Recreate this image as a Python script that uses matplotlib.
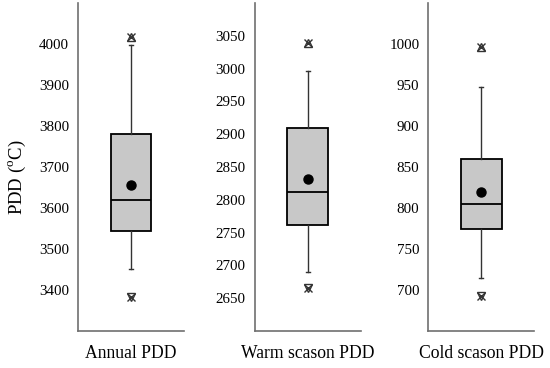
import matplotlib
matplotlib.use("Agg")
import matplotlib.pyplot as plt

plt.rcParams['font.family'] = ['Liberation Serif', 'DejaVu Serif']
plt.rcParams['mathtext.fontset'] = 'custom'
plt.rcParams['mathtext.rm'] = 'Liberation Serif'

labels = ["Annual PDD", "Warm scason PDD", "Cold scason PDD"]
q1 = [3543, 2762, 775]
median = [3620, 2812, 805]
q3 = [3780, 2910, 860]
whislo = [3452, 2690, 715]
whishi = [3998, 2997, 947]
mean = [3656, 2832, 819]
out_hi = [4016, 3039, 996]
out_lo = [3384, 2665, 693]
ylims = [(3300, 4100), (2600, 3100), (650, 1050)]
yticks = [[3400, 3500, 3600, 3700, 3800, 3900, 4000],
          [2650, 2700, 2750, 2800, 2850, 2900, 2950, 3000, 3050],
          [700, 750, 800, 850, 900, 950, 1000]]

W, H = 550, 368
fig = plt.figure(figsize=(W/100, H/100), dpi=100)
lefts = [78, 254.7, 428.3]
for i in range(3):
    ax = fig.add_axes([lefts[i]/W, (H-331)/H, 106/W, 328/H])
    st = dict(med=median[i], q1=q1[i], q3=q3[i], whislo=whislo[i], whishi=whishi[i],
              mean=mean[i], fliers=[], label='')
    ax.bxp([st], positions=[1], widths=0.77, patch_artist=True, showmeans=True,
           showfliers=False,
           boxprops=dict(facecolor='#c8c8c8', edgecolor='black', linewidth=1.3),
           medianprops=dict(color='black', linewidth=1.3),
           whiskerprops=dict(color='#333333', linewidth=1.0),
           capprops=dict(color='#333333', linewidth=1.0),
           capwidths=0.07,
           meanprops=dict(marker='o', markerfacecolor='black', markeredgecolor='black', markersize=6.5))
    ax.plot([1], [out_hi[i]], marker='x', color='#333333', markersize=6, mew=1.0, linestyle='none')
    ax.plot([1], [out_hi[i]], marker='^', mfc='none', mec='#333333', markersize=6, mew=1.0, linestyle='none')
    ax.plot([1], [out_lo[i]], marker='x', color='#333333', markersize=6, mew=1.0, linestyle='none')
    ax.plot([1], [out_lo[i]], marker='v', mfc='none', mec='#333333', markersize=6, mew=1.0, linestyle='none')
    ax.set_xlim(0, 2)
    ax.set_ylim(*ylims[i])
    ax.set_yticks(yticks[i])
    ax.set_xticks([])
    ax.tick_params(axis='y', length=0, pad=6.5, labelsize=10.8)
    for s in ['top', 'right']:
        ax.spines[s].set_visible(False)
    for s in ['left', 'bottom']:
        ax.spines[s].set_color('#707070')
        ax.spines[s].set_linewidth(1.2)
    ax.set_xlabel(labels[i], fontsize=12.7, labelpad=10)
    if i == 0:
        ax.set_ylabel(r'PDD ($^{\rm o}$C)', fontsize=13.5)
        ax.yaxis.set_label_coords(-0.47, 0.47)

fig.savefig('out.png', dpi=100)
